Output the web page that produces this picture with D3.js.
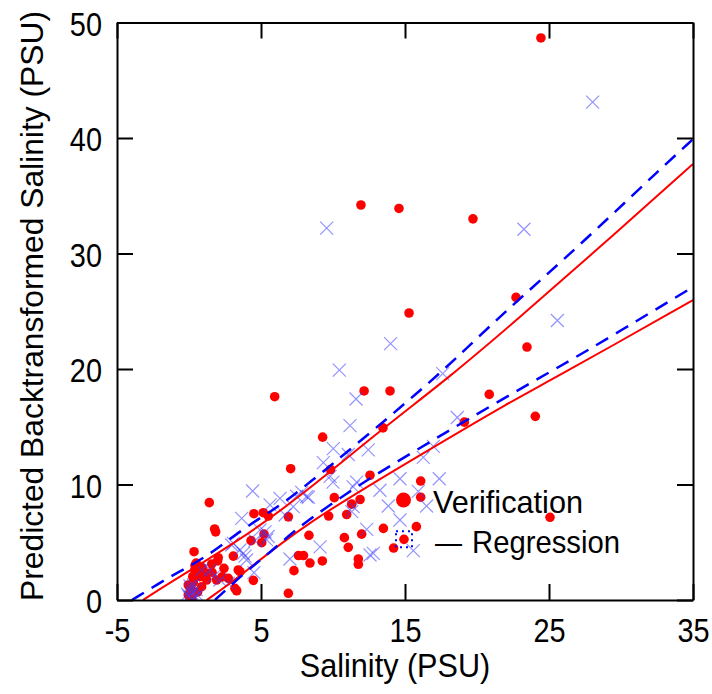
<!DOCTYPE html>
<html><head><meta charset="utf-8">
<script src="https://cdn.jsdelivr.net/npm/d3@7"></script>
<style>
body{margin:0;background:#fff}
svg text{font-family:"Liberation Sans",Arial,Helvetica,sans-serif;fill:#000}
</style>
</head><body>
<svg id="chart" width="712" height="694"></svg>
<script>
// ---- data ----
const xTicks = [-5, 5, 15, 25, 35];
const yTicks = [0, 10, 20, 30, 40, 50];
const xTitle = "Salinity (PSU)";
const yTitle = "Predicted Backtransformed Salinity (PSU)";
const legendLabels = ["Verification", "Regression"];

// Verification data (red dots)
const verification = [
  [24.44,48.66],[11.94,34.2],[14.58,33.9],[19.72,33.0],[15.28,24.85],[22.71,26.2],[23.47,21.9],
  [24.05,15.9],[20.85,17.8],[19.12,15.4],[12.16,18.1],[13.96,18.1],[13.47,14.9],[9.28,14.1],
  [5.95,17.6],[9.83,11.3],[7.06,11.37],[12.57,10.8],[16.09,10.3],[16.09,8.9],[10.09,8.86],
  [11.88,8.7],[11.3,8.3],[10.95,7.4],[9.7,7.27],[25.07,7.16],[15.79,6.35],[13.5,6.2],
  [8.33,5.6],[10.79,5.4],[11.99,5.7],[11.06,4.56],[14.21,4.5],[7.6,3.85],[7.95,3.85],
  [8.4,3.2],[9.26,3.38],[11.76,3.55],[11.76,3.09],[4.51,7.47],[5.16,7.56],[5.51,7.27],
  [6.9,7.2],[5.21,5.71],[5.05,4.96],[4.31,5.14],[7.29,2.54],[4.47,1.7],[6.9,0.58],
  [3.54,2.45],[1.41,8.43],[1.78,6.15],[1.85,5.9],[0.35,4.18],[3.08,3.8],[2.03,3.66],
  [1.99,3.38],[1.58,3.12],[2.43,2.74],[3.42,2.6],[0.26,2.02],[0.76,2.02],[1.23,1.73],
  [2.73,1.88],[3.19,1.01],[3.31,0.8],[0.1,1.0],[-0.05,0.43],[0.88,1.15],[0.42,3.0],
  [0.65,2.66],[1.0,2.16],[1.92,1.73],[0.5,3.2],[0.9,2.8],[1.2,2.3],[0.3,1.5],[1.6,2.4],
  [2.3,2.0],[0.6,0.7],[0.2,0.1],[1.0,2.5],[0.4,2.6],[-0.05,1.3]
];
// Regression data (blue crosses)
const regression = [
  [28.03,43.1],[9.56,32.2],[23.26,32.1],[25.58,24.2],[14.0,22.2],[10.44,19.9],[17.62,19.6],
  [11.6,17.4],[11.18,15.1],[18.63,15.8],[10.02,13.1],[12.45,13.0],[11.06,12.6],[9.33,11.9],
  [16.97,13.3],[16.27,12.35],[10.0,10.2],[9.8,10.7],[11.64,10.2],[14.65,10.5],[17.38,10.5],
  [8.17,8.95],[11.4,9.8],[13.26,9.5],[15.92,9.4],[13.84,8.14],[16.5,8.14],[11.3,7.65],
  [14.65,6.93],[12.34,6.12],[9.1,4.6],[12.57,3.9],[12.8,4.04],[15.58,4.27],[4.42,9.44],
  [7.83,9.32],[8.29,8.9],[6.32,8.8],[5.63,8.23],[7.24,8.08],[11.4,8.08],[6.67,7.36],
  [3.66,7.07],[4.93,6.06],[5.5,5.5],[4.58,5.14],[3.77,4.04],[7.01,3.55],[4.51,2.37],
  [3.89,3.8],[3.54,4.33],[2.96,4.76],[5.28,5.9],[5.4,5.2],[0.88,2.6],[1.46,2.6],[1.69,2.0],
  [2.15,1.73],[2.73,1.44],[0.07,1.21],[3.08,4.9],[4.0,3.46],[7.47,9.0],
  [0.0,0.3],[0.2,0.6],[0.4,0.2],[0.1,0.9],[0.5,0.9],[0.3,1.3],[-0.1,0.5],[0.6,0.4],[0.25,0.1]
];
const highlighted = [[14.93,5.25]];

// Band curves
const redUpper  = [[-3.2,0],[-1.32,1.5],[3.54,5.19],[7.71,8.94],[13.47,14.87],[18.13,19.33],[22.76,24.24],[28.31,30.3],[35.0,37.75]];
const redLower  = [[1.23,0],[3.54,2.02],[7.71,6.35],[16.04,12.55],[22.52,17.32],[25.19,19.05],[35.0,25.97]];
const blueUpper = [[-3.96,0],[-1.32,2.02],[0.07,2.94],[1.69,4.18],[3.66,6.06],[5.63,7.65],[7.24,8.94],[16.74,18.76],[19.86,22.51],[22.99,26.12],[26.11,29.58],[29.24,33.19],[32.36,36.88],[35.0,39.9]];
const blueLower = [[1.8,0],[3.89,2.4],[5.51,4.0],[7.24,5.91],[9.1,7.65],[12.34,10.39],[15.81,12.99],[19.28,15.58],[23.45,18.61],[27.38,21.36],[35.0,27.1]];

// ---- drawing ----
const svg = d3.select("#chart");
const L = 117, R = 693, T = 22.5, B = 600;
const x = d3.scaleLinear().domain([-5, 35]).range([L, R]);
const y = d3.scaleLinear().domain([0, 50]).range([B, T]);
const squeezeK = 0.85;   // the reference font is condensed horizontally

svg.append("defs").append("clipPath").attr("id","plotclip")
  .append("rect").attr("x",L).attr("y",T).attr("width",R-L).attr("height",B-T);

const plot = svg.append("g").attr("clip-path","url(#plotclip)");

// red dots
plot.append("g").selectAll("circle").data(verification).join("circle")
  .attr("cx", d=>x(d[0])).attr("cy", d=>y(d[1])).attr("r", 4.8).attr("fill", "#ff0000");
plot.append("g").selectAll("circle").data(highlighted).join("circle")
  .attr("cx", d=>x(d[0])).attr("cy", d=>y(d[1])).attr("r", 4.8).attr("fill", "#ff0000");

// blue crosses
const cs = 6.5;
plot.append("g").selectAll("path").data(regression).join("path")
  .attr("d", d=>{const cx=x(d[0]), cy=y(d[1]);
    return `M${cx-cs},${cy-cs}L${cx+cs},${cy+cs}M${cx-cs},${cy+cs}L${cx+cs},${cy-cs}`;})
  .attr("stroke","#3a3aff").attr("stroke-opacity",0.55).attr("stroke-width",1.2).attr("fill","none");

// highlighted marker (dotted blue box)
plot.append("g").selectAll("rect").data(highlighted).join("rect")
  .attr("x", d=>x(d[0])-8).attr("y", d=>y(d[1])-8).attr("width",16).attr("height",16)
  .attr("fill","none").attr("stroke","#0000ff").attr("stroke-width",2).attr("stroke-dasharray","2,4");

// band lines
const line = d3.line().x(d=>x(d[0])).y(d=>y(d[1])).curve(d3.curveBasis);
plot.append("path").datum(redUpper).attr("d",line).attr("fill","none").attr("stroke","#ff0000").attr("stroke-width",2);
plot.append("path").datum(redLower).attr("d",line).attr("fill","none").attr("stroke","#ff0000").attr("stroke-width",2);
plot.append("path").datum(blueUpper).attr("d",line).attr("fill","none").attr("stroke","#0000ff").attr("stroke-width",2.5).attr("stroke-dasharray","14,9");
plot.append("path").datum(blueLower).attr("d",line).attr("fill","none").attr("stroke","#0000ff").attr("stroke-width",2.5).attr("stroke-dasharray","14,9");

// axes
const fs = 34;
function styleAxis(g){
  g.select(".domain").attr("stroke","#000").attr("stroke-width",2);
  g.selectAll(".tick line").attr("stroke","#000").attr("stroke-width",2);
  g.selectAll("text").attr("font-size",fs).attr("font-family",null).attr("fill","#000");
}
const fmt = d => String(d);
svg.append("g").attr("transform",`translate(0,${B})`)
  .call(d3.axisBottom(x).tickValues(xTicks).tickSizeInner(-16).tickSizeOuter(0).tickPadding(18).tickFormat(fmt))
  .call(styleAxis)
  .selectAll(".tick text").attr("transform",`scale(${squeezeK},1)`);
svg.append("g").attr("transform",`translate(${L},0)`)
  .call(d3.axisLeft(y).tickValues(yTicks).tickSizeInner(-16).tickSizeOuter(0).tickPadding(15).tickFormat(fmt))
  .call(styleAxis)
  .selectAll(".tick text").attr("dy","0.37em").attr("x",-15/squeezeK).attr("transform",`scale(${squeezeK},1)`);
svg.append("g").attr("transform",`translate(0,${T})`)
  .call(d3.axisTop(x).tickValues(xTicks).tickSizeInner(-16).tickSizeOuter(0).tickFormat(""))
  .call(styleAxis);
svg.append("g").attr("transform",`translate(${R},0)`)
  .call(d3.axisRight(y).tickValues(yTicks).tickSizeInner(-16).tickSizeOuter(0).tickFormat(""))
  .call(styleAxis);

// titles
svg.append("g").attr("transform","translate(395,677)")
  .append("text").attr("text-anchor","middle").attr("transform","scale(0.9,1)")
  .attr("font-size", 34).text(xTitle);
svg.append("text").attr("transform","translate(43,306) rotate(-90)").attr("text-anchor","middle")
  .attr("font-size", 32).attr("textLength",590).attr("lengthAdjust","spacingAndGlyphs").text(yTitle);

// legend
svg.append("circle").attr("cx",403.5).attr("cy",500).attr("r",7.5).attr("fill","#ff0000");
svg.append("text").attr("x",433).attr("y",513).attr("font-size",32)
  .attr("textLength",150).attr("lengthAdjust","spacingAndGlyphs").text(legendLabels[0]);
svg.append("text").attr("x",435).attr("y",553).attr("font-size",32)
  .attr("textLength",27).attr("lengthAdjust","spacingAndGlyphs").text("\u2014");
svg.append("text").attr("x",472).attr("y",553).attr("font-size",32)
  .attr("textLength",148).attr("lengthAdjust","spacingAndGlyphs").text(legendLabels[1]);
</script>
</body></html>
